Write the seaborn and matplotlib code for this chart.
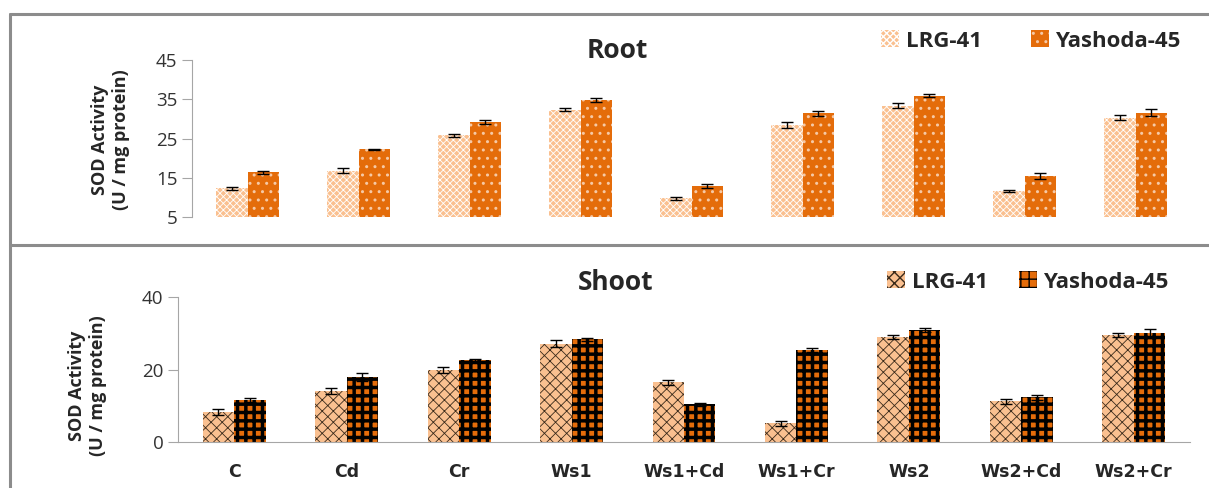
import numpy as np
import pandas as pd
import matplotlib
matplotlib.use("Agg")
import matplotlib.pyplot as plt
import seaborn as sns
from matplotlib.patches import Patch
from matplotlib.lines import Line2D

# -------------------------------
# Data
# -------------------------------
treatments = ["C", "Cd", "Cr", "Ws1", "Ws1+Cd", "Ws1+Cr", "Ws2", "Ws2+Cd", "Ws2+Cr"]
varieties = ["LRG-41", "Yashoda-45"]

root_lrg = [12.3, 16.8, 25.8, 32.3, 9.8, 28.5, 33.4, 11.7, 30.3]
root_lrg_err = [0.3, 0.6, 0.3, 0.4, 0.4, 0.7, 0.6, 0.3, 0.6]
root_yash = [16.4, 22.2, 29.2, 34.8, 13.0, 31.4, 35.9, 15.5, 31.6]
root_yash_err = [0.4, 0.15, 0.4, 0.5, 0.5, 0.6, 0.4, 0.8, 0.8]

shoot_lrg = [8.4, 14.2, 19.9, 27.2, 16.5, 5.2, 29.0, 11.3, 29.6]
shoot_lrg_err = [0.8, 0.8, 0.9, 1.0, 0.6, 0.8, 0.6, 0.6, 0.6]
shoot_yash = [11.6, 18.0, 22.6, 28.4, 10.5, 25.5, 31.0, 12.4, 30.1]
shoot_yash_err = [0.5, 1.0, 0.5, 0.5, 0.4, 0.6, 0.6, 0.6, 1.2]

# -------------------------------
# Styles
# -------------------------------
sns.set_style("white")
plt.rcParams['font.family'] = ['Open Sans', 'DejaVu Sans']

axis_grey = "#A6A6A6"
frame_grey = "#8C8C8C"

# (face, hatch, hatch colour, hatch linewidth)
root_styles = [("#FAC090", "xxxxx", "white", 0.6),
               ("#E46C0A", "..", "#F6C9A6", 1.0)]
shoot_styles = [("#FAC090", "xxx", "#3A2A1A", 0.6),
                ("#E46C0A", "++", "black", 2.5)]


def make_df(lrg, yash):
    rows = []
    for t, a, b in zip(treatments, lrg, yash):
        rows.append({"Treatment": t, "Variety": varieties[0], "SOD": a})
        rows.append({"Treatment": t, "Variety": varieties[1], "SOD": b})
    return pd.DataFrame(rows)


def style_patch(p, face, hatch, hcol, hlw):
    p.set_facecolor(face)
    p.set_edgecolor(hcol)
    p.set_linewidth(0)
    p.set_hatch(hatch)
    if hasattr(p, "set_hatchcolor"):
        p.set_hatchcolor(hcol)
    if hasattr(p, "set_hatch_linewidth"):
        p.set_hatch_linewidth(hlw)


def draw_panel(ax, lrg, yash, lrg_err, yash_err, styles):
    df = make_df(lrg, yash)
    sns.barplot(data=df, x="Treatment", y="SOD", hue="Variety",
                order=treatments, hue_order=varieties,
                width=0.56, gap=0, errorbar=None, legend=False, ax=ax)
    for cont, (face, hatch, hcol, hlw), vals, errs in zip(
            ax.containers, styles, [lrg, yash], [lrg_err, yash_err]):
        xs = []
        for p in cont:
            style_patch(p, face, hatch, hcol, hlw)
            xs.append(p.get_x() + p.get_width() / 2)
        ax.errorbar(xs, vals, yerr=errs, fmt="none", ecolor="black",
                    elinewidth=1.0, capsize=4, capthick=1.0, zorder=5)
    handles = []
    for face, hatch, hcol, hlw in styles:
        h = Patch(facecolor=face, edgecolor=hcol, linewidth=0, hatch=hatch)
        handles.append(h)
    return handles


fig = plt.figure(figsize=(12.09, 4.88), dpi=100)
W, H = 1209, 488

ax1 = fig.add_axes([192 / W, 1 - 217 / H, 999 / W, 157 / H])
ax2 = fig.add_axes([178 / W, 1 - 442.3 / H, 1012 / W, 145 / H])

ylab = "SOD Activity\n(U / mg protein)"
leg_prop = {"weight": "bold", "size": 16}

# -------------------------------
# Root panel
# -------------------------------
h1 = draw_panel(ax1, root_lrg, root_yash, root_lrg_err, root_yash_err, root_styles)
ax1.set_ylim(5, 45)
ax1.set_yticks([5, 15, 25, 35, 45])
ax1.set_xlim(-0.5, 8.5)
ax1.set_xticks([])
ax1.set_xlabel("")
for s in ["top", "right", "bottom"]:
    ax1.spines[s].set_visible(False)
ax1.spines["left"].set_color(axis_grey)
ax1.tick_params(axis="y", direction="out", length=7, color=axis_grey,
                labelsize=13.5, labelcolor="#333333", left=True)
ax1.set_ylabel(ylab, fontsize=13, fontweight="bold", linespacing=1.25)
ax1.yaxis.set_label_coords(-0.062, 0.49)
fig.text(617 / W, 1 - 50 / H, "Root", ha="center", va="center",
         fontsize=19, fontweight="bold")
fig.legend(h1, varieties, loc="center", bbox_to_anchor=(1031 / W, 1 - 41 / H),
           ncol=2, frameon=False, handlelength=0.8, handleheight=0.8,
           handletextpad=0.3, columnspacing=2.2, prop=leg_prop)

# -------------------------------
# Shoot panel
# -------------------------------
h2 = draw_panel(ax2, shoot_lrg, shoot_yash, shoot_lrg_err, shoot_yash_err, shoot_styles)
ax2.set_ylim(0, 40)
ax2.set_yticks([0, 20, 40])
ax2.set_xlim(-0.5, 8.5)
ax2.set_xticks(range(len(treatments)))
ax2.set_xticklabels(treatments, fontweight="bold", fontsize=12.5,
                    family=["DejaVu Sans"])
ax2.set_xticks(np.arange(-0.5, 9.0, 1.0), minor=True)
ax2.tick_params(axis="x", which="major", length=0, pad=15)
ax2.tick_params(axis="x", which="minor", direction="out", length=7, color=axis_grey)
ax2.set_xlabel("")
for s in ["top", "right"]:
    ax2.spines[s].set_visible(False)
ax2.spines["left"].set_color(axis_grey)
ax2.spines["bottom"].set_color(axis_grey)
ax2.tick_params(axis="y", direction="out", length=7, color=axis_grey,
                labelsize=13.5, labelcolor="#333333", left=True)
ax2.set_ylabel(ylab, fontsize=13, fontweight="bold", linespacing=1.25)
ax2.yaxis.set_label_coords(-0.070, 0.39)
fig.text(616 / W, 1 - 283 / H, "Shoot", ha="center", va="center",
         fontsize=19, fontweight="bold")
fig.legend(h2, varieties, loc="center", bbox_to_anchor=(1028 / W, 1 - 282 / H),
           ncol=2, frameon=False, handlelength=0.8, handleheight=0.8,
           handletextpad=0.3, columnspacing=1.4, prop=leg_prop)

# -------------------------------
# Grey frames round the two panels
# -------------------------------
frame_kw = dict(color=frame_grey, linewidth=2.2, transform=fig.transFigure)
fig.add_artist(Line2D([10 / W, 1.0], [1 - 14 / H, 1 - 14 / H], **frame_kw))
fig.add_artist(Line2D([10 / W, 10 / W], [1 - 14 / H, 0.0], **frame_kw))
fig.add_artist(Line2D([10 / W, 1.0], [1 - 245 / H, 1 - 245 / H], **frame_kw))

fig.savefig("out.png", dpi=100)
